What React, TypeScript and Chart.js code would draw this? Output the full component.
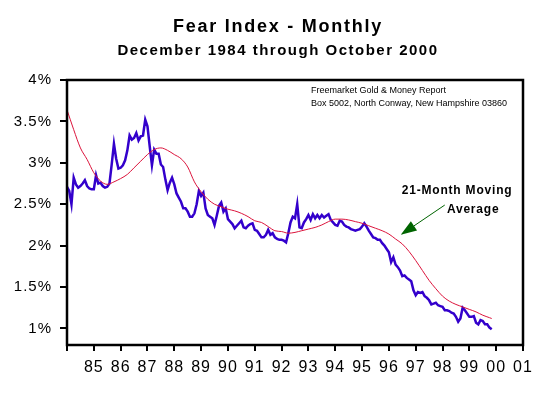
import React, { useEffect, useRef } from "react";
import { Chart, registerables } from "chart.js";

Chart.register(...registerables);

// ---------- data ----------
const TITLE = "Fear Index - Monthly";
const SUBTITLE = "December 1984 through October 2000";
const SOURCE_LINES = ["Freemarket Gold & Money Report", "Box 5002, North Conway, New Hampshire 03860"];
const ANNOTATION_LINES = ["21-Month Moving", "Average"];

// month index 0 = Dec 1984 ... 190 = Oct 2000
const fearIndex = [
  2.71, 2.66, 2.50, 2.82, 2.74, 2.70, 2.72, 2.75, 2.79, 2.72, 2.69, 2.68,
  2.68, 2.85, 2.75, 2.76, 2.72, 2.70, 2.71, 2.75, 2.98, 3.23, 3.05, 2.93,
  2.94, 2.97, 3.03, 3.15, 3.33, 3.28, 3.30, 3.36, 3.27, 3.32, 3.33, 3.52,
  3.44, 3.20, 2.97, 3.16, 3.11, 3.11, 2.98, 2.95, 2.80, 2.67, 2.76, 2.82,
  2.74, 2.63, 2.58, 2.53, 2.45, 2.45, 2.41, 2.35, 2.35, 2.39, 2.50, 2.66,
  2.60, 2.64, 2.45, 2.37, 2.35, 2.33, 2.25, 2.36, 2.48, 2.52, 2.41, 2.45,
  2.32, 2.29, 2.26, 2.21, 2.24, 2.27, 2.30, 2.22, 2.21, 2.24, 2.26, 2.27,
  2.19, 2.18, 2.14, 2.10, 2.10, 2.13, 2.19, 2.13, 2.15, 2.10, 2.08, 2.07,
  2.07, 2.06, 2.04, 2.15, 2.28, 2.35, 2.33, 2.50, 2.22, 2.21, 2.28, 2.32,
  2.37, 2.31, 2.38, 2.33, 2.37, 2.33, 2.37, 2.34, 2.36, 2.38, 2.31, 2.28,
  2.25, 2.24, 2.30, 2.29, 2.25, 2.23, 2.22, 2.20, 2.19, 2.18, 2.19, 2.20,
  2.23, 2.27, 2.23, 2.18, 2.14, 2.10, 2.09, 2.07, 2.07, 2.03, 2.00, 1.96,
  1.92, 1.80, 1.86, 1.77, 1.74, 1.70, 1.63, 1.64, 1.61, 1.59, 1.57, 1.46,
  1.40, 1.44, 1.43, 1.44, 1.39, 1.37, 1.34, 1.29, 1.30, 1.31, 1.28, 1.27,
  1.26, 1.22, 1.22, 1.21, 1.19, 1.18, 1.14, 1.08, 1.12, 1.25, 1.22, 1.18,
  1.14, 1.14, 1.15, 1.07, 1.05, 1.10, 1.09, 1.05, 1.05, 1.01, 0.99,
];

const maMonths = [
  0, 3, 6, 9, 12, 15, 18, 21, 24, 27, 30, 33, 36, 39, 42, 45, 48, 51, 54, 57,
  60, 63, 66, 69, 72, 75, 78, 81, 84, 87, 90, 93, 96, 99, 102, 105, 108, 111,
  114, 117, 120, 123, 126, 129, 132, 135, 138, 141, 144, 147, 150, 153, 156,
  159, 162, 165, 168, 171, 174, 177, 180, 183, 186, 189, 190,
];
const movingAverage = [
  3.64, 3.40, 3.18, 3.04, 2.88, 2.78, 2.74, 2.77, 2.81, 2.86, 2.94, 3.02, 3.10,
  3.16, 3.18, 3.15, 3.10, 3.05, 2.95, 2.77, 2.65, 2.56, 2.50, 2.47, 2.44, 2.42,
  2.39, 2.35, 2.30, 2.28, 2.23, 2.18, 2.17, 2.15, 2.16, 2.18, 2.20, 2.22, 2.25,
  2.29, 2.32, 2.32, 2.31, 2.29, 2.27, 2.24, 2.21, 2.18, 2.14, 2.08, 2.02, 1.93,
  1.82, 1.70, 1.58, 1.48, 1.39, 1.33, 1.29, 1.26, 1.23, 1.20, 1.16, 1.13, 1.12,
];

const xTickLabels = ["", "85", "86", "87", "88", "89", "90", "91", "92", "93", "94", "95", "96", "97", "98", "99", "00", "01"];
const yTickValues = [1, 1.5, 2, 2.5, 3, 3.5, 4];

// annotation anchors in data units (month index, percent)
const arrowTail = { x: 169, y: 2.49 };
const arrowTip = { x: 149.3, y: 2.13 };
const annotationAnchors = [
  { x: 174.5, y: 2.66 },
  { x: 181.7, y: 2.44 },
];

const FONT = "'Liberation Sans', Arial, sans-serif";

export default function App() {
  const canvasRef = useRef<HTMLCanvasElement | null>(null);

  useEffect(() => {
    const canvas = canvasRef.current;
    if (!canvas) return;

    const decor = {
      id: "decor",
      beforeLayout(chart: any) {
        chart.ctx.letterSpacing = "1px";
      },
      beforeDraw(chart: any) {
        const ctx = chart.ctx;
        ctx.save();
        ctx.fillStyle = "#ffffff";
        ctx.fillRect(0, 0, chart.width, chart.height);
        ctx.restore();
        ctx.letterSpacing = "1px";
      },
      afterDraw(chart: any) {
        const ctx = chart.ctx as CanvasRenderingContext2D & { letterSpacing: string };
        const ca = chart.chartArea;
        const xs = chart.scales.x;
        const ys = chart.scales.y;

        // frame
        ctx.save();
        ctx.strokeStyle = "#000";
        ctx.lineWidth = 2.5;
        ctx.strokeRect(ca.left, ca.top, ca.right - ca.left, ca.bottom - ca.top);
        ctx.restore();

        // titles
        ctx.save();
        ctx.fillStyle = "#000";
        ctx.textAlign = "center";
        ctx.textBaseline = "middle";
        ctx.letterSpacing = "1.75px";
        ctx.font = `bold 18px ${FONT}`;
        ctx.fillText(TITLE, 278, 27);
        ctx.letterSpacing = "1.5px";
        ctx.font = `bold 15px ${FONT}`;
        ctx.fillText(SUBTITLE, 278, 51);
        ctx.restore();

        // source text
        ctx.save();
        ctx.fillStyle = "#000";
        ctx.textAlign = "left";
        ctx.textBaseline = "middle";
        ctx.letterSpacing = "0px";
        ctx.font = `9px ${FONT}`;
        SOURCE_LINES.forEach((t, i) => ctx.fillText(t, ca.left + 244, ca.top + 11 + i * 12.3));
        ctx.restore();

        // annotation text
        ctx.save();
        ctx.fillStyle = "#000";
        ctx.textAlign = "center";
        ctx.textBaseline = "middle";
        ctx.letterSpacing = "0.8px";
        ctx.font = `bold 12px ${FONT}`;
        ANNOTATION_LINES.forEach((t, i) => {
          const a = annotationAnchors[i];
          ctx.fillText(t, xs.getPixelForValue(a.x), ys.getPixelForValue(a.y));
        });
        ctx.restore();

        // arrow
        const tx = xs.getPixelForValue(arrowTail.x);
        const ty = ys.getPixelForValue(arrowTail.y);
        const hx = xs.getPixelForValue(arrowTip.x);
        const hy = ys.getPixelForValue(arrowTip.y);
        const ang = Math.atan2(hy - ty, hx - tx);
        const headLen = 16;
        const headW = 5.5;
        const bx = hx - headLen * Math.cos(ang);
        const by = hy - headLen * Math.sin(ang);
        ctx.save();
        ctx.strokeStyle = "#006400";
        ctx.fillStyle = "#006400";
        ctx.lineWidth = 1;
        ctx.beginPath();
        ctx.moveTo(tx, ty);
        ctx.lineTo(bx, by);
        ctx.stroke();
        ctx.beginPath();
        ctx.moveTo(hx, hy);
        ctx.lineTo(bx + headW * Math.sin(ang), by - headW * Math.cos(ang));
        ctx.lineTo(bx - headW * Math.sin(ang), by + headW * Math.cos(ang));
        ctx.closePath();
        ctx.fill();
        ctx.restore();
      },
    };

    const chart = new Chart(canvas, {
      type: "line",
      data: {
        datasets: [
          {
            label: "21-Month Moving Average",
            data: maMonths.map((m, i) => ({ x: m, y: movingAverage[i] })),
            borderColor: "#dc143c",
            borderWidth: 1,
            pointRadius: 0,
            fill: false,
            cubicInterpolationMode: "monotone",
          },
          {
            label: "Fear Index",
            data: fearIndex.map((v, i) => ({ x: i, y: v })),
            borderColor: "#3300cc",
            borderWidth: 2.5,
            pointRadius: 0,
            fill: false,
            tension: 0,
          },
        ],
      },
      options: {
        animation: false,
        responsive: false,
        devicePixelRatio: 1,
        layout: { padding: { left: 0, top: 80, right: 21, bottom: 0 } },
        plugins: {
          legend: { display: false },
          title: { display: false },
          tooltip: { enabled: false },
        },
        scales: {
          x: {
            type: "linear",
            min: 0,
            max: 204,
            border: { display: false },
            grid: {
              drawOnChartArea: false,
              drawTicks: true,
              tickLength: 6,
              color: "#000",
              lineWidth: 2,
            },
            afterBuildTicks: (scale: any) => {
              scale.ticks = xTickLabels.map((_, i) => ({ value: i * 12 }));
            },
            ticks: {
              autoSkip: false,
              maxRotation: 0,
              padding: 7,
              color: "#000",
              font: { family: FONT, size: 16 },
              callback: (value: any) => xTickLabels[Math.round(Number(value) / 12)] ?? "",
            },
            afterFit: (scale: any) => {
              scale.height = 48;
            },
          },
          y: {
            type: "linear",
            min: 0.8,
            max: 4,
            border: { display: false },
            grid: {
              drawOnChartArea: false,
              drawTicks: true,
              tickLength: 7,
              color: "#000",
              lineWidth: 2,
            },
            afterBuildTicks: (scale: any) => {
              scale.ticks = yTickValues.map((v) => ({ value: v }));
            },
            ticks: {
              padding: 8,
              color: "#000",
              font: { family: FONT, size: 15 },
              callback: (value: any) => `${value}%`,
            },
            afterFit: (scale: any) => {
              scale.width = 67;
            },
          },
        },
      },
      plugins: [decor],
    } as any);

    return () => chart.destroy();
  }, []);

  return (
    <div style={{ position: "fixed", left: 0, top: 0, width: 544, height: 393, background: "#fff" }}>
      <canvas ref={canvasRef} width={544} height={393} style={{ display: "block", width: 544, height: 393 }} />
    </div>
  );
}
